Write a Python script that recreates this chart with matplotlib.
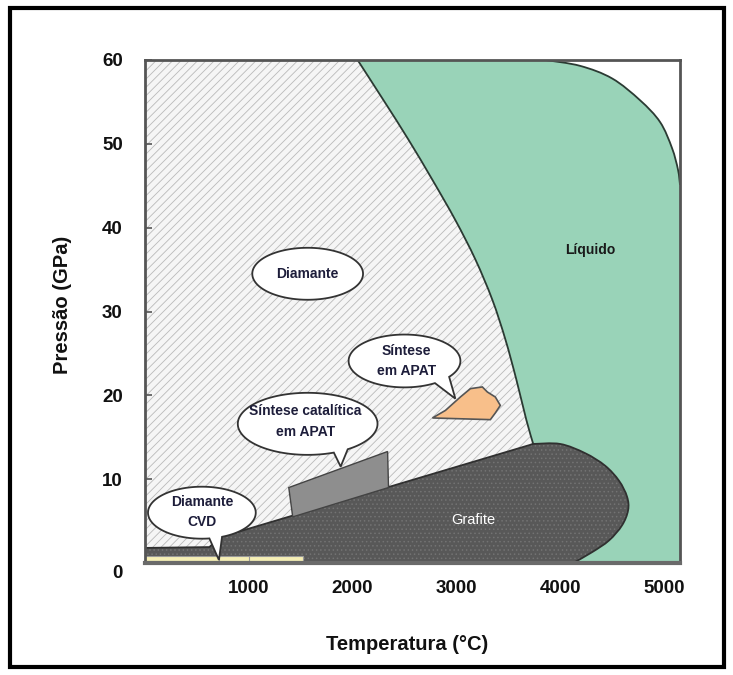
import numpy as np
import matplotlib
matplotlib.use("Agg")
import matplotlib.pyplot as plt
from matplotlib.patches import Polygon, Rectangle, PathPatch
from matplotlib.path import Path
from matplotlib.transforms import ScaledTranslation

plt.rcParams['font.family'] = ['Liberation Sans', 'DejaVu Sans']
plt.rcParams['hatch.linewidth'] = 0.6

# diamond / liquid boundary (T in degC, P in GPa)
liq_bound_T = [2048, 2298, 2538, 2769, 2990, 3183, 3346, 3471, 3577, 3673, 3740]
liq_bound_P = [60, 55.2, 50.5, 45.7, 40.9, 36.2, 31.4, 26.7, 21.9, 17.1, 14.2]

# upper right edge of the liquid field
liq_top_T = [3856, 4192, 4500, 4769, 4962, 5077, 5135, 5154]
liq_top_P = [60, 59.3, 57.8, 55.2, 52.6, 49.5, 46.9, 45.1]

# graphite field: straight lower edge, then the rounded cap
graph_line_T = [0, 620, 730, 3740]
graph_line_P = [1.8, 1.9, 3.1, 14.2]
graph_cap_T = [3740, 4000, 4240, 4433, 4567, 4644, 4654, 4596, 4471, 4308, 4125]
graph_cap_P = [14.2, 14.2, 13.1, 11.6, 9.8, 7.9, 6.3, 4.5, 2.7, 1.3, 0.0]

# catalytic HPHT synthesis zone
cat_T = [1385, 2337, 2346, 1423]
cat_P = [9.0, 13.3, 9.0, 5.5]

# HPHT synthesis zone
apat_T = [2769, 2894, 3038, 3135, 3250, 3298, 3375, 3423, 3375, 3327]
apat_P = [17.3, 18.2, 19.8, 20.8, 21.0, 20.4, 19.8, 18.8, 17.9, 17.1]

# CVD strip
cvd_T = [0, 1519]
cvd_P = [0.25, 0.8]
cvd_marks = [712, 1000]

x_ticks = [1000, 2000, 3000, 4000, 5000]
y_ticks = [0, 10, 20, 30, 40, 50, 60]
T_max = 5154
P_max = 60

text_col = '#1d1d3a'
line_col = '#2b3a33'


def curve_segs(T, P):
	# smooth bezier pieces through the read points (first point excluded)
	pts = np.column_stack([T, P]).astype(float)
	n = len(pts)
	verts = []
	for i in range(n - 1):
		p0 = pts[i - 1] if i > 0 else pts[i]
		p1 = pts[i]
		p2 = pts[i + 1]
		p3 = pts[i + 2] if i + 2 < n else pts[i + 1]
		verts += [p1 + (p2 - p0) / 6, p2 - (p3 - p1) / 6, p2]
	return verts, [Path.CURVE4] * len(verts)


def build_path(pieces):
	# pieces: list of ('line', [(x,y),...]) or ('curve', T, P); first vertex is a MOVETO
	verts = []
	codes = []
	for piece in pieces:
		if piece[0] == 'line':
			for v in piece[1]:
				verts.append(v)
				codes.append(Path.MOVETO if not codes else Path.LINETO)
		else:
			T, P = piece[1], piece[2]
			verts.append((T[0], P[0]))
			codes.append(Path.MOVETO if not codes else Path.LINETO)
			v, c = curve_segs(T, P)
			verts += v
			codes += c
	return verts, codes


def closed(verts, codes):
	return Path(list(verts) + [verts[0]], list(codes) + [Path.CLOSEPOLY])


def bubble(ax, cx, cy, w, h, tip=None, angs=None):
	if tip is None:
		t = np.linspace(0, 2 * np.pi, 200)
		pts = np.column_stack([cx + w / 2 * np.cos(t), cy + h / 2 * np.sin(t)])
	else:
		a1 = np.radians(angs[0])
		a2 = np.radians(angs[1])
		t = np.linspace(a2, a1 + 2 * np.pi, 200)
		pts = np.column_stack([cx + w / 2 * np.cos(t), cy + h / 2 * np.sin(t)])
		pts = np.vstack([pts, [tip]])
	ax.add_patch(Polygon(pts, closed=True, facecolor='white', edgecolor='#333333',
						 linewidth=1.3, zorder=6))


fig = plt.figure(figsize=(7.33, 6.75), dpi=100)
ax = fig.add_axes([145 / 733, 1 - 563 / 675, 535 / 733, 503 / 675])
ax.set_xlim(0, T_max)
ax.set_ylim(0, P_max)

# diamond field (hatched)
v, c = build_path([('line', [(0, 0), (0, P_max)]), ('curve', liq_bound_T, liq_bound_P),
				   ('line', [(liq_bound_T[-1], 0)])])
ax.add_patch(PathPatch(closed(v, c), facecolor='#f5f5f5', edgecolor='#b9b9b9', hatch='////',
					   linewidth=0, zorder=1))

# white corner above the liquid
v, c = build_path([('curve', liq_top_T, liq_top_P), ('line', [(T_max, P_max)])])
ax.add_patch(PathPatch(closed(v, c), facecolor='white', linewidth=0, zorder=1))

# liquid field
v, c = build_path([('curve', liq_bound_T, liq_bound_P),
				   ('line', [(liq_bound_T[-1], 0), (T_max, 0)]),
				   ('curve', liq_top_T[::-1], liq_top_P[::-1])])
ax.add_patch(PathPatch(closed(v, c), facecolor='#99d3b8', linewidth=0, zorder=2))
v, c = build_path([('curve', liq_bound_T, liq_bound_P)])
ax.add_patch(PathPatch(Path(v, c), fill=False, edgecolor=line_col, linewidth=1.3, zorder=3))
v, c = build_path([('curve', liq_top_T, liq_top_P)])
ax.add_patch(PathPatch(Path(v, c), fill=False, edgecolor=line_col, linewidth=1.3, zorder=3))

# graphite field (speckled)
line_pts = list(zip(graph_line_T, graph_line_P))
v, c = build_path([('line', [(0, 0)] + line_pts[:-1]), ('curve', graph_cap_T, graph_cap_P)])
ax.add_patch(PathPatch(closed(v, c), facecolor='#585858', edgecolor='#737373', hatch='....',
					   linewidth=0, zorder=4))
v, c = build_path([('line', line_pts[:-1]), ('curve', graph_cap_T, graph_cap_P)])
ax.add_patch(PathPatch(Path(v, c), fill=False, edgecolor='#303030', linewidth=1.3, zorder=4))
ax.text(3163, 5.1, 'Grafite', color='white', fontsize=10.5, ha='center', va='center', zorder=7)

# synthesis zones
ax.add_patch(Polygon(np.column_stack([cat_T, cat_P]), closed=True, facecolor='#8e8e8e',
					 edgecolor='#444444', linewidth=1.0, zorder=5))
ax.add_patch(Polygon(np.column_stack([apat_T, apat_P]), closed=True, facecolor='#f8bf8a',
					 edgecolor='#555555', linewidth=1.2, zorder=5))

# CVD strip
ax.add_patch(Rectangle((cvd_T[0], cvd_P[0]), cvd_T[1] - cvd_T[0], cvd_P[1] - cvd_P[0],
					   facecolor='#f6efb5', edgecolor='#999999', linewidth=0.8, zorder=5))
for m in cvd_marks:
	ax.plot([m, m], cvd_P, color='#999999', lw=0.8, zorder=5)

# callouts
bubble(ax, 1567, 34.5, 1067, 6.2)
ax.text(1567, 34.5, 'Diamante', color=text_col, fontsize=10, fontweight='bold',
		ha='center', va='center', zorder=7)

bubble(ax, 2500, 24.1, 1077, 6.3, tip=(2990, 19.6), angs=(-57, -37))
ax.text(2520, 24.1, 'Síntese\nem APAT', color=text_col, fontsize=10, fontweight='bold',
		ha='center', va='center', linespacing=1.6, zorder=7)

bubble(ax, 1567, 16.6, 1346, 7.4, tip=(1885, 11.5), angs=(-68, -55))
ax.text(1548, 16.9, 'Síntese catalítica\nem APAT', color=text_col, fontsize=10,
		fontweight='bold', ha='center', va='center', linespacing=1.6, zorder=7)

bubble(ax, 548, 6.0, 1038, 6.2, tip=(712, 0.36), angs=(-82, -68))
ax.text(548, 6.1, 'Diamante\nCVD', color=text_col, fontsize=10, fontweight='bold',
		ha='center', va='center', linespacing=1.6, zorder=7)

ax.text(4288, 37.3, 'Líquido', color='#1a1a1a', fontsize=10, fontweight='bold',
		ha='center', va='center', zorder=7)

# axes styling
for s in ['left', 'top', 'right']:
	ax.spines[s].set_color('#555555')
	ax.spines[s].set_linewidth(2)
ax.spines['bottom'].set_color('#6a6a6a')
ax.spines['bottom'].set_linewidth(3)
for s in ax.spines.values():
	s.set_zorder(8)

ax.set_xticks(x_ticks)
ax.set_yticks(y_ticks)
ax.tick_params(direction='in', length=5, width=1.2, color='#555555', labelsize=13.5,
			   labelcolor='#111111')
ax.tick_params(axis='y', pad=16)
ax.tick_params(axis='x', pad=12)
for lab in ax.get_xticklabels() + ax.get_yticklabels():
	lab.set_fontweight('bold')
ylabs = ax.get_yticklabels()
ylabs[0].set_transform(ylabs[0].get_transform() + ScaledTranslation(0, -0.09, fig.dpi_scale_trans))

ax.set_xlabel('Temperatura (°C)', fontsize=14.5, fontweight='bold', color='#111111')
ax.set_ylabel('Pressão (GPa)', fontsize=14.5, fontweight='bold', color='#111111')
ax.xaxis.set_label_coords(0.49, -0.143)
ax.yaxis.set_label_coords(-0.136, 0.513)

# outer frame
fig.patches.append(Rectangle((10 / 733, 8 / 675), 714 / 733, 659 / 675, transform=fig.transFigure,
							 fill=False, linewidth=3, edgecolor='black'))

fig.savefig('out.png', dpi=100)
